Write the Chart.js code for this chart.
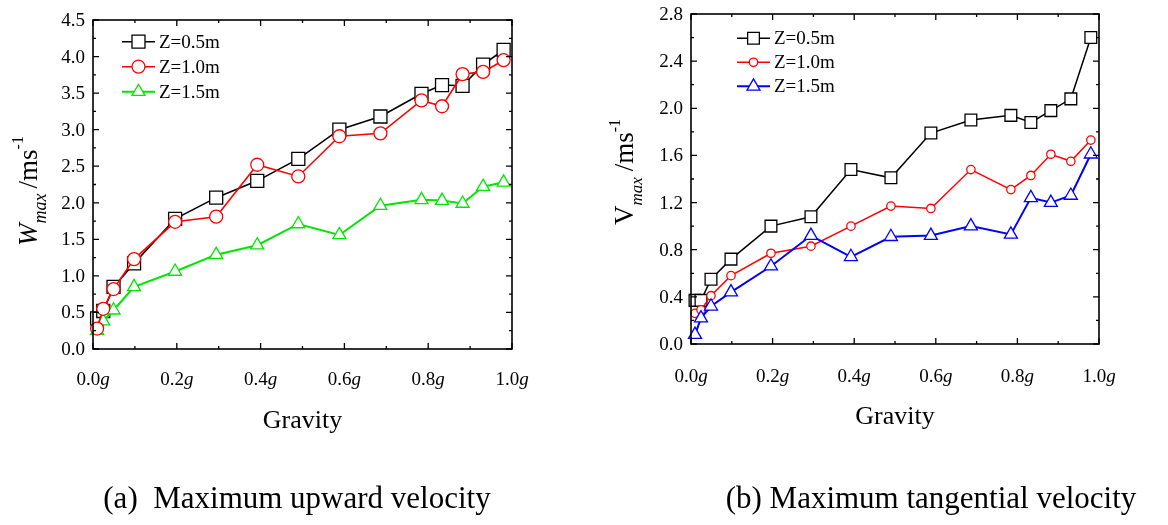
<!DOCTYPE html>
<html>
<head>
<meta charset="utf-8">
<script src="https://cdn.jsdelivr.net/npm/chart.js@4.4.1/dist/chart.umd.min.js"></script>
<style>
  html, body { margin: 0; padding: 0; background: #fff; }
  #wrap { position: relative; width: 1168px; height: 525px; overflow: hidden; }
  .box { position: absolute; top: 0; width: 584px; height: 525px; }
  .cap {
    position: absolute; top: 480px; line-height: 36px;
    font: 31px "Liberation Serif", "Times New Roman", serif;
    white-space: pre; color: #000; transform: translateX(-50%);
  }
</style>
</head>
<body>
<div id="wrap">
  <div class="box" style="left:0"><canvas id="upward" width="584" height="525"></canvas></div>
  <div class="box" style="left:584px"><canvas id="tangential" width="584" height="525"></canvas></div>
  <div class="cap" style="left:297px">(a)  Maximum upward velocity</div>
  <div class="cap" style="left:931px">(b) Maximum tangential velocity</div>
</div>
<script>
// gravity levels (fraction of g, as plotted)
var gravity = [0.0098, 0.0245, 0.049, 0.098, 0.196, 0.294, 0.392, 0.49, 0.588, 0.686, 0.784, 0.833, 0.882, 0.931, 0.98];

var depths = ["Z=0.5m", "Z=1.0m", "Z=1.5m"];

// (a) maximum upward velocity W_max
var upward05 = [0.42, 0.52, 0.85, 1.17, 1.78, 2.07, 2.30, 2.60, 3.00, 3.18, 3.49, 3.61, 3.60, 3.89, 4.09];
var upward10 = [0.28, 0.55, 0.82, 1.23, 1.74, 1.81, 2.52, 2.36, 2.91, 2.95, 3.40, 3.32, 3.76, 3.79, 3.95];
var upward15 = [0.25, 0.38, 0.53, 0.85, 1.06, 1.29, 1.42, 1.71, 1.56, 1.96, 2.04, 2.03, 1.99, 2.22, 2.28];

// (b) maximum tangential velocity V_max
var tangential05 = [0.37, 0.37, 0.55, 0.72, 1.00, 1.08, 1.48, 1.41, 1.79, 1.90, 1.94, 1.88, 1.98, 2.08, 2.60];
var tangential10 = [0.26, 0.29, 0.41, 0.58, 0.77, 0.83, 1.00, 1.17, 1.15, 1.48, 1.31, 1.43, 1.61, 1.55, 1.73];
var tangential15 = [0.08, 0.22, 0.32, 0.44, 0.66, 0.92, 0.74, 0.91, 0.92, 1.00, 0.93, 1.24, 1.20, 1.26, 1.61];

// tick labels
var xTicks = [0.0, 0.2, 0.4, 0.6, 0.8, 1.0];
var yTicksA = [0.0, 0.5, 1.0, 1.5, 2.0, 2.5, 3.0, 3.5, 4.0, 4.5];
var yTicksB = [0.0, 0.4, 0.8, 1.2, 1.6, 2.0, 2.4, 2.8];

var SERIF = '"Liberation Serif", "Times New Roman", serif';

function points(values) {
  return values.map(function (v, i) { return { x: gravity[i], y: v }; });
}

function drawRich(ctx, parts, x, y, align) {
  var total = 0;
  parts.forEach(function (p) { ctx.font = p.font; p.w = ctx.measureText(p.t).width; total += p.w + (p.gap || 0); });
  var cx = align === "center" ? x - total / 2 : x;
  parts.forEach(function (p) {
    ctx.font = p.font;
    ctx.fillText(p.t, cx, y + (p.dy || 0));
    cx += p.w + (p.gap || 0);
  });
}

function framePlugin(cfg) {
  return {
    id: "frame",
    afterDatasetsDraw: function (chart) {
      var ctx = chart.ctx, a = chart.chartArea;
      var xs = chart.scales.x, ys = chart.scales.y;
      ctx.save();
      ctx.strokeStyle = "#000";
      ctx.lineWidth = 1.6;
      ctx.strokeRect(a.left, a.top, a.right - a.left, a.bottom - a.top);
      ctx.lineWidth = 1.3;
      ctx.beginPath();
      // x ticks, major every 0.2, minor every 0.1
      for (var i = 0; i <= 10; i++) {
        var px = xs.getPixelForValue(i / 10);
        var len = i % 2 === 0 ? 6 : 3;
        ctx.moveTo(px, a.bottom); ctx.lineTo(px, a.bottom - len);
        ctx.moveTo(px, a.top); ctx.lineTo(px, a.top + len);
      }
      // y ticks with minor halfway
      var step = cfg.yStep / 2;
      var n = Math.round(cfg.yMax / step);
      for (var j = 0; j <= n; j++) {
        var py = ys.getPixelForValue(j * step);
        var l2 = j % 2 === 0 ? 6 : 3;
        ctx.moveTo(a.left, py); ctx.lineTo(a.left + l2, py);
        ctx.moveTo(a.right, py); ctx.lineTo(a.right - l2, py);
      }
      ctx.stroke();
      ctx.restore();
    },
    afterDraw: function (chart) {
      var ctx = chart.ctx, a = chart.chartArea;
      var xs = chart.scales.x, ys = chart.scales.y;
      ctx.save();
      ctx.fillStyle = "#000";

      // y tick labels
      ctx.font = "19px " + SERIF;
      ctx.textAlign = "right";
      ctx.textBaseline = "middle";
      cfg.yTicks.forEach(function (v) {
        ctx.fillText(v.toFixed(1), a.left - 8, ys.getPixelForValue(v) + 1);
      });

      // x tick labels "0.2g"
      ctx.textAlign = "left";
      ctx.textBaseline = "alphabetic";
      xTicks.forEach(function (v) {
        drawRich(ctx, [
          { t: v.toFixed(1), font: "19px " + SERIF },
          { t: "g", font: "italic 19px " + SERIF }
        ], xs.getPixelForValue(v), a.bottom + cfg.xLabelGap, "center");
      });

      // x title
      ctx.font = "26px " + SERIF;
      ctx.textAlign = "center";
      ctx.fillText("Gravity", (a.left + a.right) / 2, a.bottom + cfg.xTitleGap);

      // y title, rotated
      ctx.save();
      ctx.translate(cfg.yTitleX, cfg.yTitleY);
      ctx.rotate(-Math.PI / 2);
      ctx.textAlign = "left";
      drawRich(ctx, cfg.yTitle, 0, 0, "center");
      ctx.restore();

      // legend inside the plot
      chart.data.datasets.forEach(function (ds, k) {
        var y = a.top + cfg.legend.top + k * cfg.legend.row;
        var x0 = a.left + cfg.legend.left;
        ctx.strokeStyle = ds.borderColor;
        ctx.lineWidth = ds.borderWidth;
        ctx.beginPath();
        ctx.moveTo(x0, y); ctx.lineTo(x0 + 33, y);
        ctx.stroke();
        ctx.fillStyle = "#fff";
        ctx.lineWidth = ds.pointBorderWidth;
        Chart.helpers.drawPoint(ctx, {
          pointStyle: ds.pointStyle, radius: ds.pointRadius, rotation: 0, borderWidth: ds.pointBorderWidth
        }, x0 + 16.5, y);
        ctx.fillStyle = "#000";
        ctx.font = "19px " + SERIF;
        ctx.textAlign = "left";
        ctx.textBaseline = "middle";
        ctx.fillText(ds.label, x0 + 37, y + 1);
      });
      ctx.restore();
    }
  };
}

function series(label, values, color, style, radius, width, order) {
  return {
    label: label,
    data: points(values),
    borderColor: color,
    borderWidth: width,
    pointStyle: style,
    pointRadius: radius,
    pointBorderWidth: 1.3,
    pointBorderColor: color,
    pointBackgroundColor: "#fff",
    tension: 0,
    clip: false,
    order: order
  };
}

function buildChart(id, datasets, cfg) {
  return new Chart(document.getElementById(id), {
    type: "line",
    data: { datasets: datasets },
    options: {
      responsive: false,
      animation: false,
      events: [],
      layout: { padding: cfg.pad },
      plugins: { legend: { display: false }, tooltip: { enabled: false } },
      scales: {
        x: { type: "linear", display: false, min: 0, max: 1 },
        y: { type: "linear", display: false, min: 0, max: cfg.yMax }
      }
    },
    plugins: [framePlugin(cfg)]
  });
}

buildChart("upward", [
  series(depths[0], upward05, "#000000", "rect", 9.2, 1.6, 2),
  series(depths[1], upward10, "#ff0000", "circle", 6.5, 1.6, 0),
  series(depths[2], upward15, "#00e600", "triangle", 7.5, 2, 1)
], {
  pad: { left: 93, top: 20, right: 72, bottom: 176 },
  yMax: 4.5, yStep: 0.5, yTicks: yTicksA,
  xLabelGap: 36, xTitleGap: 79,
  yTitleX: 37, yTitleY: 191,
  yTitle: [
    { t: "W", font: "italic 27px " + SERIF },
    { t: "max", font: "italic 18px " + SERIF, dy: 9, gap: 5 },
    { t: "/ms", font: "27px " + SERIF },
    { t: "-1", font: "16px " + SERIF, dy: -14 }
  ],
  legend: { left: 29, top: 21.7, row: 25 }
});

buildChart("tangential", [
  series(depths[0], tangential05, "#000000", "rect", 8.3, 1.5, 2),
  series(depths[1], tangential10, "#ff0000", "circle", 4.2, 1.5, 1),
  series(depths[2], tangential15, "#0000ff", "triangle", 7.5, 2, 0)
], {
  pad: { left: 107, top: 14, right: 69, bottom: 181 },
  yMax: 2.8, yStep: 0.4, yTicks: yTicksB,
  xLabelGap: 38, xTitleGap: 80,
  yTitleX: 49, yTitleY: 172,
  yTitle: [
    { t: "V", font: "27px " + SERIF },
    { t: "max", font: "italic 17px " + SERIF, dy: 9, gap: 6 },
    { t: "/ms", font: "27px " + SERIF },
    { t: "-1", font: "16px " + SERIF, dy: -13 }
  ],
  legend: { left: 46, top: 24.3, row: 24 }
});
</script>
</body>
</html>
